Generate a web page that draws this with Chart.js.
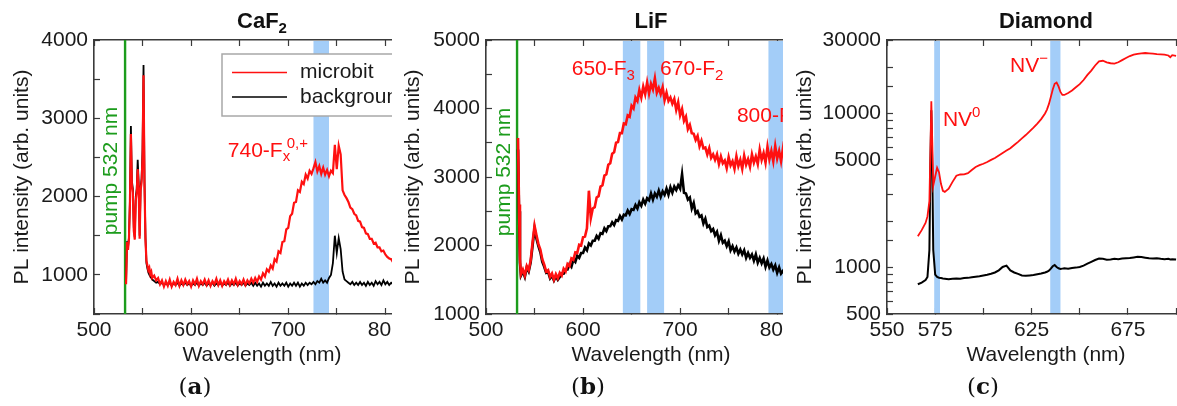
<!DOCTYPE html>
<html>
<head>
<meta charset="utf-8">
<script src="https://cdn.jsdelivr.net/npm/chart.js@4.4.1/dist/chart.umd.min.js"></script>
<style>
  body { margin: 0; background: #fff; width: 1177px; height: 406px; overflow: hidden; position: relative; }
  .panel { position: absolute; top: 0; height: 406px; overflow: hidden; }
  .panel canvas { position: absolute; left: 0; top: 0; }
  .tag { position: absolute; top: 372px; width: 60px; line-height: 30px; text-align: center;
         font: 23px "DejaVu Serif", "Liberation Serif", serif; color: #111; }
  .tag b { font-weight: bold; }
</style>
</head>
<body>
<div class="panel" style="left:0;width:392px"><canvas id="cA" width="440" height="406"></canvas></div>
<div class="panel" style="left:400px;width:383px"><canvas id="cB" width="426" height="406"></canvas></div>
<div class="panel" style="left:790px;width:387px"><canvas id="cC" width="425" height="406"></canvas></div>
<div class="tag" style="left:165px">(<b>a</b>)</div>
<div class="tag" style="left:558px">(<b>b</b>)</div>
<div class="tag" style="left:953px">(<b>c</b>)</div>
<script>
// ---- (a) CaF2 ----
const aWl = [533,534,535,536,537,538,539,540,541,542,543,544,545,546,547,548,549,550,551,552,553,554,555,556,557,558,559,560,
  562,564,566,568,570,572,574,576,578,580,582,584,586,588,590,592,594,596,598,600,
  602,604,606,608,610,612,614,616,618,620,622,624,626,628,630,632,634,636,638,640,
  642,644,646,648,650,652,654,656,658,660,662,664,666,668,670,672,674,676,678,680,
  682,684,686,688,690,692,694,696,698,700,702,704,706,708,710,712,714,716,718,720,
  722,724,726,728,730,732,734,736,738,740,742,744,746,748,750,752,754,756,758,760,
  762,764,766,768,770,772,774,776,778,780,782,784,786,788,790,792,794,796,798,800,
  802,804,806,808,810];
const aMicrobit = [880,1420,1320,1460,1900,2800,2150,2050,1560,1450,1950,2050,2350,2120,1460,2080,2180,2500,3550,2150,1450,1180,1120,1060,1090,1010,1040,960,
  990,930,960,880,930,850,920,860,940,850,910,870,950,860,930,870,940,880,920,850,
  930,880,950,860,920,880,940,870,930,860,920,880,950,870,930,860,920,880,940,870,
  930,880,950,870,920,880,940,870,930,890,950,900,960,910,980,940,1020,980,1070,1040,
  1120,1080,1200,1170,1300,1280,1420,1430,1580,1600,1750,1780,1920,1930,2080,2060,2190,2160,2280,2230,
  2330,2290,2360,2440,2320,2390,2290,2370,2280,2340,2260,2330,2300,2660,2350,2650,2540,2080,2020,1980,
  1930,1860,1840,1780,1760,1690,1680,1610,1600,1530,1520,1460,1460,1400,1410,1350,1350,1300,1310,1260,
  1230,1210,1200,1160,1150];
const aBackground = [900,1430,1350,1480,1950,2900,2200,2100,1600,1480,2000,2100,2470,2180,1500,2120,2230,2600,3680,2200,1480,1150,1080,1030,1000,980,960,940,
  920,900,910,880,900,870,890,870,900,860,890,870,900,860,890,870,900,870,890,860,
  890,870,900,860,890,870,900,860,890,870,900,860,890,870,900,860,890,870,900,860,
  890,870,900,860,890,870,900,860,890,870,900,860,900,860,890,850,900,860,890,860,
  910,860,890,850,900,860,890,860,900,850,890,860,900,860,900,850,890,860,900,870,
  900,880,910,880,920,900,950,900,930,900,960,1000,1150,1500,1280,1470,1330,1040,940,920,
  900,880,910,870,900,870,910,870,900,860,910,870,900,860,920,880,910,870,930,880,
  910,870,900,880,900];
const aBands = [[726, 742]];
const aXLabels = [500, 600, 700, 800];
const aYLabels = [1000, 2000, 3000, 4000];

// ---- (b) LiF ----
const bWl = [533,534,535,536,
  538,540,542,544,546,548,550,552,554,556,558,560,562,564,566,568,570,572,574,576,
  578,580,582,584,586,588,590,592,594,596,598,600,602,604,606,608,610,612,614,616,
  618,620,622,624,626,628,630,632,634,636,638,640,642,644,646,648,650,652,654,656,
  658,660,662,664,666,668,670,672,674,676,678,680,682,684,686,688,690,692,694,696,
  698,700,702,704,706,708,710,712,714,716,718,720,722,724,726,728,730,732,734,736,
  738,740,742,744,746,748,750,752,754,756,758,760,762,764,766,768,770,772,774,776,
  778,780,782,784,786,788,790,792,794,796,798,800,802,804,806,808,810];
const bMicrobit = [3570,2600,1800,1580,
  1650,1560,1700,1640,1780,2050,2290,2150,2020,1940,1800,1720,1620,1640,1540,1590,1500,1580,1520,1600,
  1560,1660,1620,1730,1700,1810,1790,1900,1890,2010,2000,2120,2130,2250,2800,2400,2540,2560,2700,2720,
  2860,2880,3020,3040,3180,3200,3340,3360,3500,3510,3640,3640,3780,3770,3900,3880,4040,4000,4160,4110,
  4270,4160,4320,4210,4380,4220,4360,4280,4440,4230,4300,4210,4310,4120,4230,4110,4160,4070,4140,3980,
  4090,3900,3990,3820,3880,3700,3760,3640,3630,3540,3600,3450,3530,3420,3430,3330,3420,3280,3330,3250,
  3330,3190,3300,3200,3240,3130,3290,3170,3230,3120,3300,3160,3250,3120,3310,3180,3260,3150,3330,3210,
  3300,3190,3400,3250,3350,3210,3440,3260,3380,3230,3450,3270,3380,3230,3420,3280,3360];
const bBackground = [3400,2500,1750,1560,
  1620,1540,1680,1620,1750,2000,2250,2100,1990,1900,1760,1690,1600,1610,1520,1560,1490,1550,1500,1540,
  1590,1590,1650,1650,1730,1690,1790,1760,1850,1820,1890,1890,1970,1930,2030,2000,2070,2070,2140,2100,
  2180,2170,2250,2210,2280,2280,2340,2300,2370,2360,2430,2380,2450,2440,2510,2460,2530,2520,2590,2540,
  2630,2580,2670,2610,2690,2660,2760,2670,2760,2710,2800,2710,2790,2740,2830,2740,2850,2770,2860,2810,
  2880,2830,3040,2770,2760,2670,2700,2540,2620,2470,2500,2420,2440,2320,2390,2270,2290,2210,2240,2150,
  2200,2070,2150,2040,2070,1990,2060,1930,1990,1910,1970,1880,1940,1870,1930,1820,1890,1820,1870,1780,
  1870,1750,1820,1740,1810,1690,1780,1680,1730,1650,1710,1600,1680,1590,1630,1570,1600];
const bBands = [[641, 659], [666, 683.5], [791, 809]];
const bXLabels = [500, 600, 700, 800];
const bYLabels = [1000, 2000, 3000, 4000, 5000];

// ---- (c) Diamond ----
const cWl = [566,568,570,571,572,572.5,573,573.5,574,575,576,577,578,579,580,582,584,586,588,590,
  592,594,596,598,600,602,604,606,608,610,612,614,616,618,620,622,624,626,628,630,
  632,633,634,635,636,637,638,639,640,641,642,644,646,648,650,652,654,656,658,660,
  662,664,666,668,670,672,674,676,678,680,682,684,686,688,690,692,694,696,697,698,700];
const cMicrobit = [1600,1750,1950,2150,2700,5500,12000,6500,3400,3900,4450,4150,3500,3150,3100,3250,3600,3950,4020,4030,
  4100,4300,4500,4620,4720,4850,5000,5150,5350,5550,5750,5950,6250,6550,6900,7250,7650,8100,8600,9200,
  10000,10600,11500,12800,14300,15600,15900,15000,13800,13200,13200,13600,14100,14800,15500,16500,17800,19000,20500,21800,
  22000,21500,21200,21100,21500,22200,22900,23600,24100,24400,24600,24700,24600,24500,24300,24200,24100,23800,23200,23900,23700];
const cBackground = [780,800,830,870,1300,4500,10500,4500,1300,900,870,860,855,850,848,842,846,850,848,855,
  858,866,872,878,888,898,912,930,960,1010,1030,960,930,910,890,885,890,895,905,915,
  930,940,955,985,1020,1040,1010,990,980,985,990,985,995,1000,1010,1030,1060,1090,1120,1145,
  1140,1125,1130,1140,1135,1145,1150,1155,1165,1175,1170,1160,1150,1145,1150,1140,1135,1140,1130,1135,1130];
const cBands = [[574.5, 577.5], [634.7, 640]];
const cXLabels = [550, 575, 625, 675];
const cYLabels = [500, 1000, 5000, 10000, 30000];

const FONT = '"Liberation Sans", Arial, sans-serif';
const FRAME = '#3a3a3a';
const RED = '#ff1010';
const GREEN = '#1c9c1c';
const BAND = '#a3cdf8';

Chart.defaults.font.family = FONT;
Chart.defaults.color = '#1a1a1a';

// text with sub/superscripts, returns width
function rich(ctx, parts, size, bold, draw, x0, y0) {
  let cx = x0, start = x0;
  for (const p of parts) {
    const s = (p.sub || p.sup) ? Math.round(size * 0.7) : size;
    ctx.font = (bold ? 'bold ' : '') + s + 'px ' + FONT;
    const px = p.stack !== undefined ? start + p.stack : cx;
    if (p.stack === undefined) start = px;
    const w = ctx.measureText(p.t).width;
    if (draw) ctx.fillText(p.t, px, y0 + (p.sub ? size * 0.22 : p.sup ? -size * 0.42 : 0));
    cx = Math.max(cx, px + w);
  }
  return cx - x0;
}

const decor = {
  id: 'decor',
  beforeDatasetsDraw(chart, args, o) {
    const { ctx, chartArea: a, scales: { x } } = chart;
    ctx.save();
    ctx.beginPath();
    ctx.rect(a.left, a.top, a.right - a.left, a.bottom - a.top);
    ctx.clip();
    ctx.fillStyle = BAND;
    for (const [l, r] of o.bands) {
      const x1 = x.getPixelForValue(l), x2 = x.getPixelForValue(r);
      ctx.fillRect(x1, a.top + 1, x2 - x1, a.bottom - a.top - 2);
    }
    if (o.pump) {
      const px = x.getPixelForValue(o.pump.at);
      ctx.strokeStyle = GREEN;
      ctx.lineWidth = 2.4;
      ctx.beginPath();
      ctx.moveTo(px, a.top);
      ctx.lineTo(px, a.bottom);
      ctx.stroke();
    }
    ctx.restore();
  },
  afterDatasetsDraw(chart, args, o) {
    const { ctx, chartArea: a, scales: { x, y } } = chart;
    ctx.save();
    ctx.textBaseline = 'alphabetic';
    ctx.textAlign = 'left';
    ctx.fillStyle = RED;
    for (const t of o.texts) {
      rich(ctx, t.parts, 21, false, true, x.getPixelForValue(t.x), y.getPixelForValue(t.y));
    }
    if (o.pump) {
      ctx.save();
      ctx.translate(x.getPixelForValue(o.pump.lx), y.getPixelForValue(o.pump.ly));
      ctx.rotate(-Math.PI / 2);
      ctx.fillStyle = GREEN;
      ctx.font = '21px ' + FONT;
      ctx.textAlign = 'center';
      ctx.textBaseline = 'middle';
      ctx.fillText('pump 532 nm', 0, 0);
      ctx.restore();
    }
    if (o.legend) {
      const L = a.left + 128, T = a.top + 14;
      ctx.fillStyle = '#fff';
      ctx.fillRect(L, T, a.right - 5 - L, 62);
      ctx.strokeStyle = '#a8a8a8';
      ctx.lineWidth = 1.5;
      ctx.strokeRect(L, T, a.right - 5 - L, 62);
      ctx.font = '21px ' + FONT;
      ctx.textBaseline = 'middle';
      o.legend.forEach((it, i) => {
        const yy = T + 18.5 + i * 24.5;
        ctx.strokeStyle = it.color;
        ctx.lineWidth = 1.6;
        ctx.beginPath();
        ctx.moveTo(L + 10, yy);
        ctx.lineTo(L + 65, yy);
        ctx.stroke();
        ctx.fillStyle = '#1a1a1a';
        ctx.fillText(it.label, L + 78, yy);
      });
    }
    ctx.restore();
  },
  afterDraw(chart, args, o) {
    const { ctx, chartArea: a } = chart;
    ctx.save();
    ctx.fillStyle = '#111';
    ctx.textAlign = 'left';
    ctx.textBaseline = 'alphabetic';
    const w = rich(ctx, o.title, 22, true, false, 0, 0);
    rich(ctx, o.title, 22, true, true, (a.left + a.right) / 2 - w / 2, 28);
    ctx.restore();
  }
};

function xAxis(min, max, step, labels) {
  return {
    type: 'linear', position: 'bottom', min, max,
    afterFit: s => { s.height = 58; },
    grid: { drawOnChartArea: false, tickLength: -6, color: FRAME, tickWidth: 1.2 },
    border: { color: FRAME, width: 1.6 },
    ticks: { stepSize: step, includeBounds: false, autoSkip: false, maxRotation: 0, padding: 10,
      font: { size: 21 }, color: '#1a1a1a', callback: v => labels.includes(v) ? String(v) : '' },
    title: { display: true, text: 'Wavelength (nm)', font: { size: 21 }, color: '#1a1a1a', padding: { top: 0, bottom: 4 } }
  };
}
function topAxis(min, max, step) {
  return {
    type: 'linear', position: 'top', min, max,
    afterFit: s => { s.height = 0; },
    grid: { drawOnChartArea: false, tickLength: -6, color: FRAME, tickWidth: 1.2 },
    border: { color: FRAME, width: 1.6 },
    ticks: { stepSize: step, includeBounds: false, autoSkip: false, maxRotation: 0, padding: 0, callback: () => '' }
  };
}
function yAxis(type, min, max, step, labels, width, titlePad) {
  return {
    type, position: 'left', min, max,
    afterFit: s => { s.width = width; },
    grid: { drawOnChartArea: false, tickLength: -6, color: FRAME, tickWidth: 1.2 },
    border: { color: FRAME, width: 1.6 },
    ticks: { stepSize: step, includeBounds: false, autoSkip: false, padding: 12,
      font: { size: 21 }, color: '#1a1a1a', callback: v => labels.includes(v) ? String(v) : '' },
    title: { display: true, text: 'PL intensity (arb. units)', font: { size: 21 }, color: '#1a1a1a', padding: { top: titlePad, bottom: 0 } }
  };
}
function series(wl, vals, color, width) {
  return { data: wl.map((w, i) => ({ x: w, y: vals[i] })), borderColor: color, borderWidth: width,
    pointRadius: 0, tension: 0, fill: false };
}
function make(id, cfg) {
  new Chart(document.getElementById(id), {
    type: 'line',
    data: { datasets: [series(cfg.wl, cfg.red, RED, cfg.lw[0]), series(cfg.wl, cfg.black, '#000', cfg.lw[1])] },
    options: {
      responsive: false, animation: false, events: [],
      layout: { padding: { left: 0, top: 40, right: 10, bottom: 34 } },
      scales: { x: cfg.x, x2: cfg.x2, y: cfg.y },
      plugins: { legend: { display: false }, tooltip: { enabled: false }, decor: cfg.decor }
    },
    plugins: [decor]
  });
}

make('cA', {
  wl: aWl, red: aMicrobit, black: aBackground, lw: [2.2, 1.8],
  x: xAxis(500, 846, 50, aXLabels), x2: topAxis(500, 846, 50),
  y: yAxis('linear', 500, 4000, 500, aYLabels, 94, 9.4),
  decor: {
    title: [{ t: 'CaF' }, { t: '2', sub: true }],
    bands: aBands, pump: { at: 532, lx: 518, ly: 2326 },
    texts: [{ x: 637.8, y: 2509, parts: [{ t: '740-F' }, { t: 'x', sub: true }, { t: '0,+', sup: true, stack: 4 }] }],
    legend: [{ label: 'microbit', color: RED }, { label: 'background', color: '#000' }]
  }
});

make('cB', {
  wl: bWl, red: bMicrobit, black: bBackground, lw: [2.6, 2.6],
  x: xAxis(500, 840, 50, bXLabels), x2: topAxis(500, 840, 50),
  y: yAxis('linear', 1000, 5000, 500, bYLabels, 86, 0.4),
  decor: {
    title: [{ t: 'LiF' }],
    bands: bBands, pump: { at: 532, lx: 519, ly: 3073 },
    texts: [
      { x: 588.3, y: 4489, parts: [{ t: '650-F' }, { t: '3', sub: true }] },
      { x: 679.4, y: 4489, parts: [{ t: '670-F' }, { t: '2', sub: true }] },
      { x: 758.5, y: 3807, parts: [{ t: '800-F' }, { t: '2', sub: true }, { t: '+', sup: true, stack: 3 }] }
    ]
  }
});

make('cC', {
  wl: cWl, red: cMicrobit, black: cBackground, lw: [1.8, 2],
  x: xAxis(550, 715, 25, cXLabels), x2: topAxis(550, 715, 25),
  y: yAxis('logarithmic', 500, 30000, undefined, cYLabels, 97, 2.4),
  decor: {
    title: [{ t: 'Diamond' }],
    bands: cBands, pump: null,
    texts: [
      { x: 579, y: 8280, parts: [{ t: 'NV' }, { t: '0', sup: true }] },
      { x: 613.8, y: 18600, parts: [{ t: 'NV' }, { t: '\u2212', sup: true }] }
    ]
  }
});
</script>
</body>
</html>
